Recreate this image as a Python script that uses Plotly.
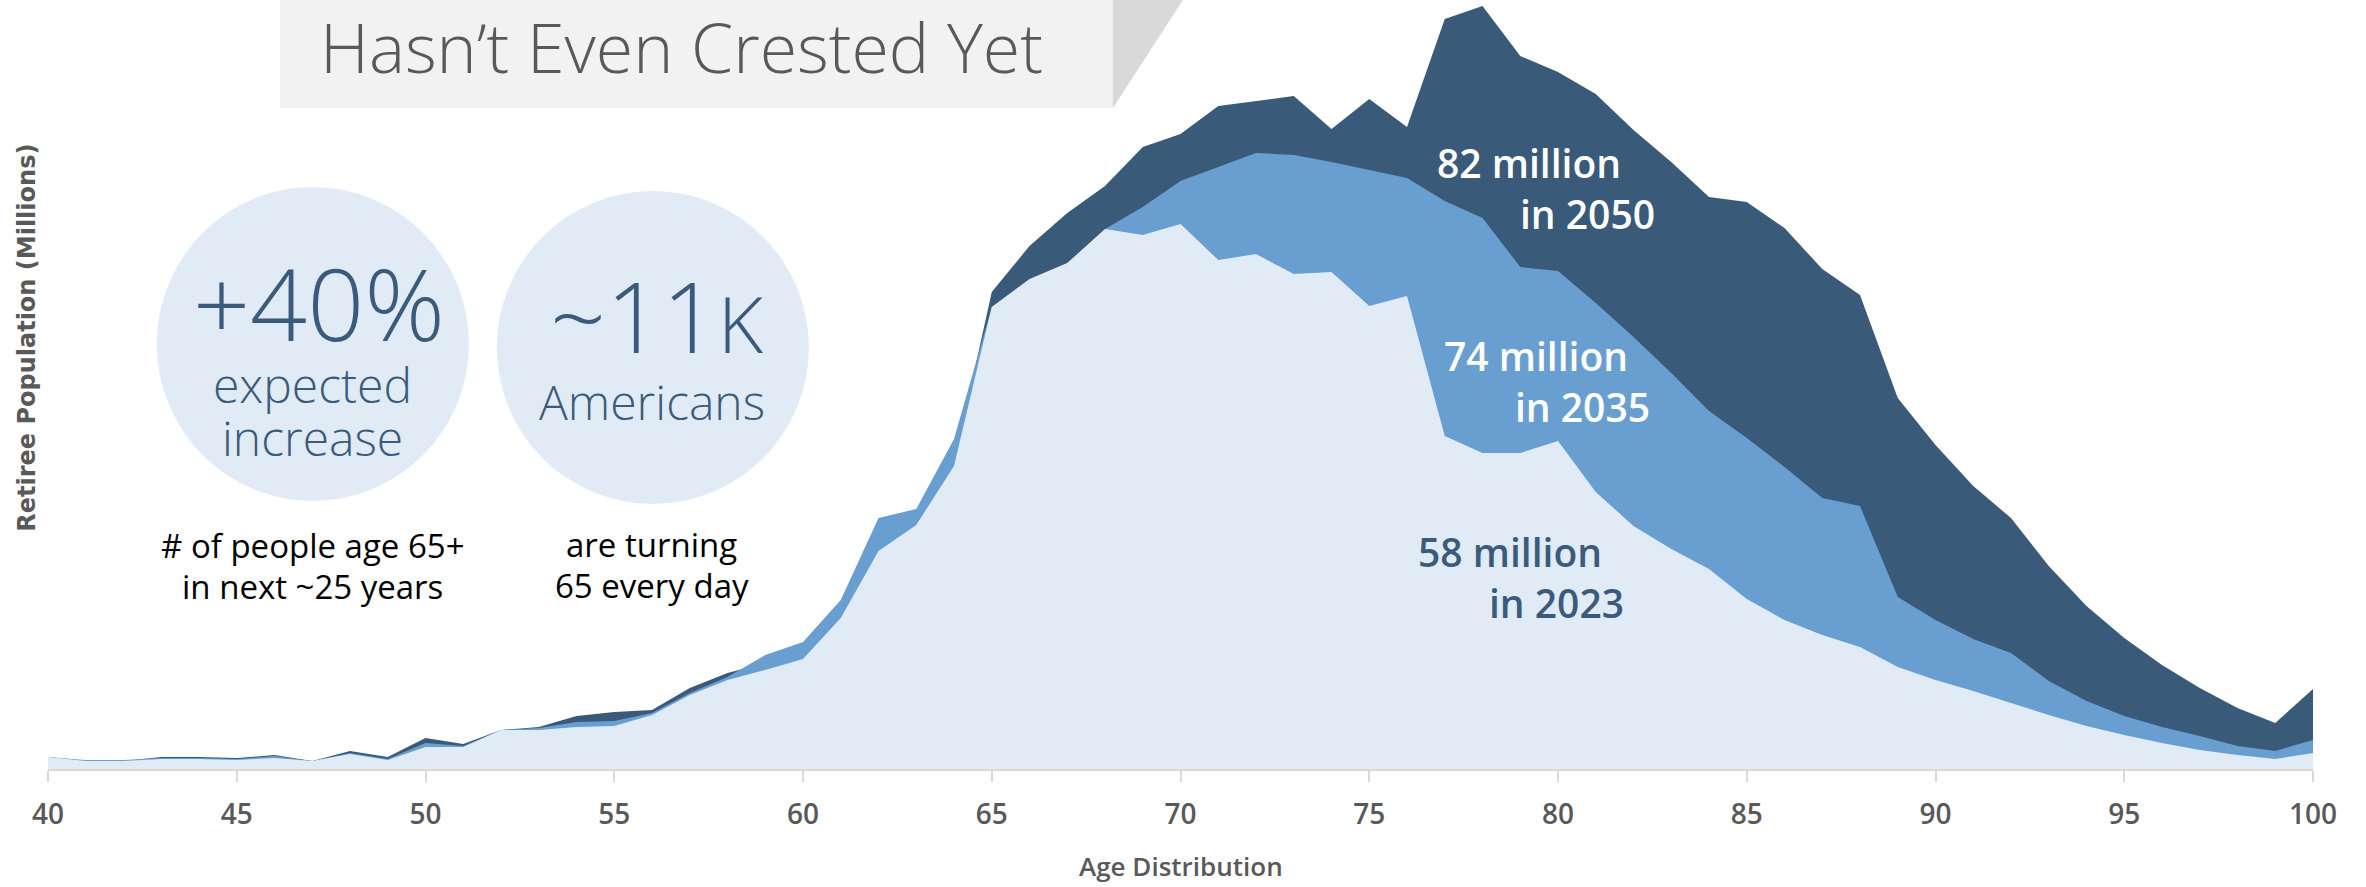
import plotly.graph_objects as go

# Ages on the x axis
ages = list(range(40, 101))

# Retiree population by single year of age (millions)
pop_2023 = [0.12, 0.08, 0.08, 0.10, 0.10, 0.09, 0.11, 0.08, 0.15, 0.09,
            0.22, 0.22, 0.39, 0.39, 0.42, 0.43, 0.54, 0.74, 0.89, 0.99,
            1.10, 1.51, 2.18, 2.44, 3.03, 4.62, 4.90, 5.06, 5.40, 5.34,
            5.45, 5.09, 5.15, 4.95, 4.97, 4.63, 4.73, 3.33, 3.16, 3.16,
            3.28, 2.77, 2.43, 2.20, 2.00, 1.70, 1.49, 1.34, 1.22, 1.02,
            0.89, 0.78, 0.66, 0.54, 0.43, 0.34, 0.26, 0.19, 0.14, 0.10,
            0.16]
pop_2035 = [0.12, 0.09, 0.09, 0.11, 0.11, 0.10, 0.13, 0.08, 0.16, 0.10,
            0.26, 0.23, 0.39, 0.41, 0.47, 0.48, 0.56, 0.76, 0.92, 1.14,
            1.27, 1.69, 2.51, 2.60, 3.30, 4.62, 4.89, 5.05, 5.40, 5.62,
            5.88, 6.02, 6.16, 6.14, 6.07, 5.99, 5.91, 5.68, 5.51, 5.02,
            4.98, 4.66, 4.32, 3.96, 3.58, 3.31, 3.02, 2.71, 2.63, 1.72,
            1.49, 1.30, 1.16, 0.88, 0.68, 0.53, 0.42, 0.33, 0.23, 0.18,
            0.29]
pop_2050 = [0.12, 0.08, 0.08, 0.12, 0.12, 0.11, 0.14, 0.08, 0.18, 0.12,
            0.31, 0.25, 0.39, 0.42, 0.53, 0.57, 0.59, 0.81, 0.96, 1.06,
            1.16, 1.59, 2.23, 2.46, 3.06, 4.77, 5.23, 5.56, 5.83, 6.22,
            6.35, 6.63, 6.68, 6.73, 6.40, 6.70, 6.42, 7.50, 7.63, 7.13,
            6.97, 6.75, 6.39, 6.07, 5.72, 5.67, 5.41, 5.00, 4.74, 3.71,
            3.24, 2.83, 2.51, 2.03, 1.63, 1.31, 1.04, 0.81, 0.61, 0.46,
            0.80]

tick_vals = list(range(40, 101, 5))

DARK = "#3a5a7a"
MID = "#699fd0"
LIGHT = "#e1ebf6"
BLUE_TXT = "#3b5b7c"
GREY = "#595959"
FONT = "Open Sans"

# plot box in pixels, used to place the decorations
L, R, T, B = 48.2, 2313, 0, 769


def px(X):
    return (X - L) / (R - L)


def py(Y):
    return (B - Y) / (B - T)


fig = go.Figure()

# drawn back to front: 2050, 2035, 2023
for year, vals, col in [("2050", pop_2050, DARK), ("2035", pop_2035, MID), ("2023", pop_2023, LIGHT)]:
    fig.add_trace(go.Scatter(
        x=ages, y=vals, name=year, mode="lines",
        line=dict(width=0, color=col),
        fill="tozeroy", fillcolor=col,
        hoverinfo="skip",
    ))

shapes = [
    # title banner and its shadow
    dict(type="rect", xref="paper", yref="paper", x0=px(280), x1=px(1113), y0=py(0), y1=py(108),
         fillcolor="#f2f2f2", line=dict(width=0), layer="below"),
    dict(type="path", xref="paper", yref="paper",
         path=f"M {px(1113)},{py(0)} L {px(1183)},{py(0)} L {px(1113)},{py(108)} Z",
         fillcolor="#d9d9d9", line=dict(width=0), layer="below"),
    # the two bubbles
    dict(type="circle", xref="paper", yref="paper", x0=px(157), x1=px(469), y0=py(187), y1=py(501),
         fillcolor=LIGHT, line=dict(width=0), layer="below"),
    dict(type="circle", xref="paper", yref="paper", x0=px(497), x1=px(809), y0=py(191), y1=py(504),
         fillcolor=LIGHT, line=dict(width=0), layer="below"),
]


def note(text, X, Y, size, color, weight=400, anchor="center", angle=0, family=FONT):
    return dict(text=text, x=px(X), y=py(Y), xref="paper", yref="paper", showarrow=False,
                xanchor=anchor, yanchor="middle", textangle=angle,
                font=dict(family=family, size=size, color=color, weight=weight))


annotations = [
    note("Hasn\u2019t Even Crested Yet", 682, 47, 68, GREY, 300),
    note("+40%", 319, 338 - 0.36 * 100, 100, BLUE_TXT, 300),
    note("expected", 313, 402 - 0.36 * 48, 48, BLUE_TXT, 300),
    note("increase", 313, 455 - 0.36 * 48, 48, BLUE_TXT, 300),
    note("~11<span style='font-size:78px'>K</span>", 657, 350 - 0.36 * 98, 98, BLUE_TXT, 300),
    note("Americans", 652, 419 - 0.36 * 48, 48, BLUE_TXT, 300),
    note("# of people age 65+", 313, 557 - 0.36 * 33, 33, "#000000"),
    note("in next ~25 years", 313, 598 - 0.36 * 33, 33, "#000000"),
    note("are turning", 652, 556 - 0.36 * 33, 33, "#000000"),
    note("65 every day", 652, 597 - 0.36 * 33, 33, "#000000"),
    note("82 million", 1435, 177 - 0.36 * 39, 39, "#ffffff", 600, "left"),
    note("in 2050", 1518, 228 - 0.36 * 39, 39, "#ffffff", 600, "left"),
    note("74 million", 1442, 370 - 0.36 * 39, 39, "#ffffff", 600, "left"),
    note("in 2035", 1513, 421 - 0.36 * 39, 39, "#ffffff", 600, "left"),
    note("58 million", 1416, 566 - 0.36 * 39, 39, BLUE_TXT, 600, "left"),
    note("in 2023", 1487, 617 - 0.36 * 39, 39, BLUE_TXT, 600, "left"),
    note("Retiree Population (Millions)", 27, 338, 24, GREY, 700, angle=-90, family="DejaVu Sans"),
    note("Age Distribution", 1181, 866, 26, GREY, 600),
]

fig.update_layout(
    width=2366, height=887,
    margin=dict(l=48, r=53, t=0, b=118),
    paper_bgcolor="white", plot_bgcolor="white",
    showlegend=False,
    shapes=shapes,
    annotations=annotations,
)

fig.update_xaxes(
    range=[40, 100], tickvals=tick_vals,
    ticks="outside", ticklen=11, tickwidth=2, tickcolor="#d9d9d9",
    showline=True, linecolor="#d9d9d9", linewidth=2,
    showgrid=False, zeroline=False,
    ticklabelstandoff=8,
    tickfont=dict(family=FONT, size=28, color=GREY, weight=600),
)
fig.update_yaxes(range=[0, 7.69], visible=False, showgrid=False, zeroline=False)

fig.write_html("out.html", config={"displayModeBar": False},
               post_script="document.body.style.margin='0';document.body.style.overflow='hidden';")
